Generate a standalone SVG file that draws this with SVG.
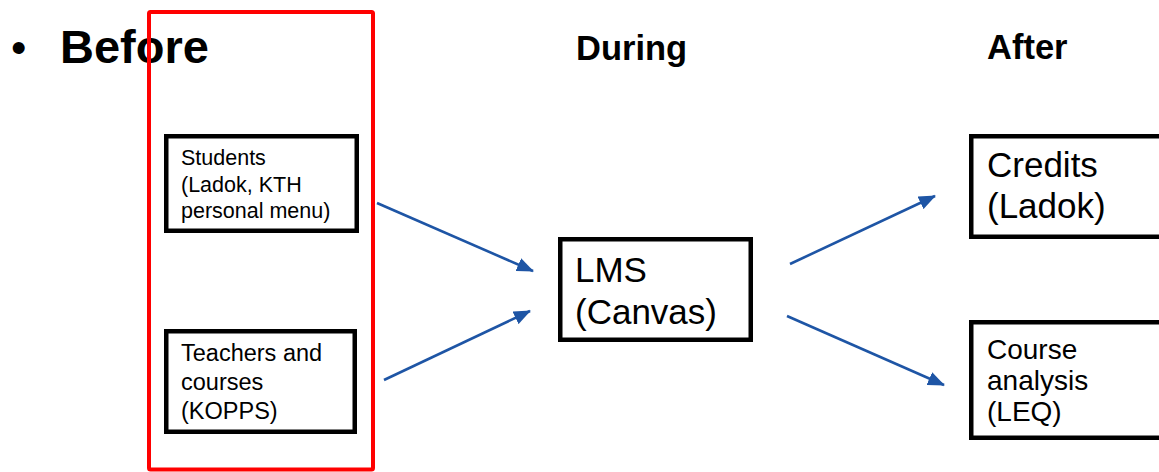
<svg xmlns="http://www.w3.org/2000/svg" width="1159" height="472" viewBox="0 0 1159 472">
<style>
text{font-family:"Liberation Sans",Arial,sans-serif;fill:#000}
.h{font-weight:bold}
.box{fill:#fff;stroke:#000;stroke-width:4.5}
.arr{stroke:#1E55A5;stroke-width:2.6;fill:none}
</style>
<defs>
<marker id="ah" markerUnits="userSpaceOnUse" markerWidth="18" markerHeight="14" refX="16" refY="7" orient="auto">
<path d="M0,0 L17,7 L0,14 z" fill="#1E55A5"/>
</marker>
</defs>
<rect width="1159" height="472" fill="#fff"/>
<g id="headings">
<text x="11" y="63" style="font-size:44px">•</text>
<text class="h" x="60" y="63" style="font-size:47px">Before</text>
<text class="h" x="576" y="60" style="font-size:34.5px">During</text>
<text class="h" x="987" y="59" style="font-size:34.5px">After</text>
</g>
<g id="students">
<rect class="box" x="166.25" y="136.25" width="190.5" height="94.5"/>
<text x="181" y="165" style="font-size:21.5px">Students</text>
<text x="181" y="191.5" style="font-size:21.5px">(Ladok, KTH</text>
<text x="181" y="218" style="font-size:21.5px">personal menu)</text>
</g>
<g id="teachers">
<rect class="box" x="166.25" y="331.25" width="188.5" height="100.5"/>
<text x="181" y="361" style="font-size:23.5px">Teachers and</text>
<text x="181" y="390" style="font-size:23.5px">courses</text>
<text x="181" y="419" style="font-size:23.5px">(KOPPS)</text>
</g>
<g id="lms">
<rect class="box" x="560.25" y="239.25" width="190.5" height="100.5"/>
<text x="575" y="282" style="font-size:35px">LMS</text>
<text x="575" y="324" style="font-size:35px">(Canvas)</text>
</g>
<g id="credits">
<rect class="box" x="971.25" y="136.25" width="200" height="100.5"/>
<text x="987" y="177" style="font-size:35px">Credits</text>
<text x="987" y="218" style="font-size:35px">(Ladok)</text>
</g>
<g id="course-analysis">
<rect class="box" x="971.25" y="322.25" width="200" height="115.5"/>
<text x="987" y="359" style="font-size:28px">Course</text>
<text x="987" y="390" style="font-size:28px">analysis</text>
<text x="987" y="421" style="font-size:28px">(LEQ)</text>
</g>
<g id="before-frame">
<rect x="149" y="12" width="224" height="457.5" rx="1.5" fill="none" stroke="#FF0000" stroke-width="4"/>
</g>
<g id="connectors">
<line class="arr" x1="377" y1="203" x2="533" y2="271" marker-end="url(#ah)"/>
<line class="arr" x1="384" y1="380" x2="530" y2="311" marker-end="url(#ah)"/>
<line class="arr" x1="790" y1="264" x2="935" y2="196" marker-end="url(#ah)"/>
<line class="arr" x1="787" y1="316" x2="944" y2="385" marker-end="url(#ah)"/>
</g>
</svg>
